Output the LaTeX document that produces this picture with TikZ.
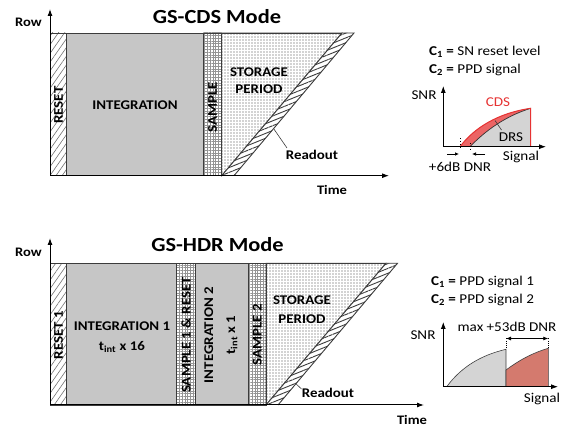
\documentclass[tikz,border=0pt]{standalone}
\usepackage{fontspec}
\setmainfont{Carlito}[FakeStretch=1.12]
\usetikzlibrary{arrows.meta,patterns.meta,calc}
\definecolor{intgray}{RGB}{198,198,198}
\definecolor{plotgray}{RGB}{212,212,212}
\definecolor{cdsred}{RGB}{230,50,50}
\definecolor{hdrred}{RGB}{212,122,110}
\definecolor{edge}{RGB}{60,60,60}
\tikzset{
  blk/.style={draw=edge,line width=0.9pt},
  intblk/.style={blk,fill=intgray},
  rstblk/.style={blk,pattern={Lines[angle=55,distance=5pt,line width=0.6pt]},pattern color=black!55},
  smpblk/.style={blk,pattern={Hatch[angle=0,distance=2.8pt,line width=0.45pt]},pattern color=black!42},
  stoblk/.style={blk,pattern={Dots[distance=3pt,radius=0.55pt]},pattern color=black!75},
  axis/.style={line width=1pt,-{Latex[length=7pt,width=5pt]}},
  paxis/.style={line width=0.8pt,-{Latex[length=7pt,width=5pt]}},
  lbl/.style={font=\fontsize{13.3}{15}\selectfont\bfseries,inner sep=0pt},
  rlbl/.style={lbl,rotate=90},
  ttl/.style={font=\fontsize{20}{23}\selectfont\bfseries,inner sep=0pt},
  axl/.style={font=\fontsize{13}{15}\selectfont\bfseries,inner sep=0pt},
  ptxt/.style={font=\fontsize{13.5}{15}\selectfont,inner sep=0pt},
  lead/.style={draw=edge,line width=0.6pt},
  dimarr/.style={line width=0.8pt,{Latex[length=5pt,width=4pt]}-{Latex[length=5pt,width=4pt]}}
}
\begin{document}
\begin{tikzpicture}[x=1pt,y=-1pt]
\useasboundingbox (0,0) rectangle (568,430);
% ================= GS-CDS =================
\node[ttl] (t1) at (217,17) {GS-CDS Mode};
\path[rstblk] (50,33) rectangle (66.7,175.7);
\path[intblk] (66.7,33) rectangle (203.3,175.7);
\path[smpblk] (203.3,33) rectangle (221.7,175.7);
\path[stoblk] (221.7,33) -- (342,33) -- (221.7,175.7) -- cycle;
\coordinate (b1bl) at (221.7,175.7); \coordinate (b1tl) at (342,33);
\coordinate (b1tr) at (354,33); \coordinate (b1br) at (234,175.7);
\path[fill=white] (b1bl) -- (b1tl) -- (b1tr) -- (b1br) -- cycle;
\path[pattern={Lines[angle=22,distance=4.5pt,line width=0.9pt]},pattern color=edge] (b1bl) -- (b1tl) -- (b1tr) -- (b1br) -- cycle;
\draw[blk] (b1bl) -- (b1tl) -- (b1tr) -- (b1br);
\draw[blk] (50,33) -- (b1tl);
\draw[axis] (50,175.7) -- (50,9);
\draw[axis] (50,175.7) -- (389,175.7);
\node[axl] (row1) at (28.5,22.5) {Row};
\node[axl] (time1) at (332,190) {Time};
\node[rlbl] (rst1) at (58.5,105) {RESET};
\node[lbl] (int1) at (135,105) {INTEGRATION};
\node[rlbl] (smp1) at (212.5,107) {SAMPLE};
\node[lbl,align=center,font=\fontsize{13.3}{17}\selectfont\bfseries] (sto1) at (259,80.5) {STORAGE\\PERIOD};
\node[lbl] (rd1) at (312,155) {Readout};
\coordinate (rd1p) at ($(b1br)!0.33!(b1tr)$);
\draw[lead] (rd1p) -- (287,148);
% CDS plot
\node[ptxt,anchor=west] (c1a) at (429,52) {\textbf{C\textsubscript{1} =} SN reset level};
\node[ptxt,anchor=west] (c2a) at (429,70) {\textbf{C\textsubscript{2} =} PPD signal};
\path[fill=plotgray] (470,146.7) .. controls (486,130) and (506,116) .. (530.7,108.3) -- (530.7,146.7) -- cycle;
\path[fill=cdsred!75] (460,146.7) .. controls (474,128) and (498,113) .. (530.7,108.3)
   .. controls (506,116) and (486,130) .. (470,146.7) -- cycle;
\draw[line width=0.7pt,black!80] (470,146.7) .. controls (486,130) and (506,116) .. (530.7,108.3);
\draw[line width=1pt,cdsred] (460,146.7) .. controls (474,128) and (498,113) .. (530.7,108.3) -- (530.7,146.7);
\draw[paxis] (443.3,146.7) -- (443.3,86);
\draw[paxis] (443.3,146.7) -- (546,146.7);
\node[ptxt] (snr1) at (424,95) {SNR};
\node[ptxt] (sig1) at (521,156.5) {Signal};
\node[ptxt] (dnr1) at (460,167) {+6dB DNR};
\node[ptxt,text=cdsred] (cds) at (498,102.5) {CDS};
\node[ptxt] (drs) at (511,137) {DRS};
\draw[lead] (501.5,130) -- (495,120.5);
\draw[line width=1pt,dash pattern=on 1.5pt off 1.5pt] (460.5,138) -- (460.5,149);
\draw[line width=1pt,dash pattern=on 1.5pt off 1.5pt] (470.5,143) -- (470.5,152);
\draw[line width=0.7pt,-{Latex[length=4pt,width=3.5pt]}] (447,154) -- (459,154);
\draw[line width=0.7pt,-{Latex[length=4pt,width=3.5pt]}] (485,154) -- (472,154);
% ================= GS-HDR =================
\node[ttl] (t2) at (217.5,245) {GS-HDR Mode};
\path[rstblk] (50,263.3) rectangle (66.7,405);
\path[intblk] (66.7,263.3) rectangle (176.7,405);
\path[smpblk] (176.7,263.3) rectangle (195,405);
\path[intblk] (195,263.3) rectangle (248.3,405);
\path[smpblk] (248.3,263.3) rectangle (266,405);
\path[stoblk] (266,263.3) -- (386,263.3) -- (266,405) -- cycle;
\coordinate (b2bl) at (266,405); \coordinate (b2tl) at (386,263.3);
\coordinate (b2tr) at (397.5,263.3); \coordinate (b2br) at (278,405);
\path[fill=white] (b2bl) -- (b2tl) -- (b2tr) -- (b2br) -- cycle;
\path[pattern={Lines[angle=22,distance=4.5pt,line width=0.9pt]},pattern color=edge] (b2bl) -- (b2tl) -- (b2tr) -- (b2br) -- cycle;
\draw[blk] (b2bl) -- (b2tl) -- (b2tr) -- (b2br);
\draw[blk] (50,263.3) -- (b2tl);
\draw[axis] (50,405) -- (50,238);
\draw[axis] (50,405) -- (424,405);
\node[axl] (row2) at (28.5,252) {Row};
\node[axl] (time2) at (412,420) {Time};
\node[rlbl] (rst2) at (58.5,335) {RESET 1};
\node[lbl,align=center,font=\fontsize{13.3}{20}\selectfont\bfseries] (int21) at (122,337) {INTEGRATION 1\\t\textsubscript{int} x 16};
\node[rlbl] (smp21) at (186,335) {SAMPLE 1 \& RESET};
\node[rlbl,align=center,font=\fontsize{13.3}{22}\selectfont\bfseries] (int22) at (221,335) {INTEGRATION 2\\t\textsubscript{int} x 1};
\node[rlbl] (smp22) at (257.3,335) {SAMPLE 2};
\node[lbl,align=center,font=\fontsize{13.3}{19}\selectfont\bfseries] (sto2) at (302,309.5) {STORAGE\\PERIOD};
\node[lbl] (rd2) at (328,393) {Readout};
\coordinate (rd2p) at ($(b2br)!0.15!(b2tr)$);
\draw[lead] (rd2p) -- (301.5,389);
% HDR plot
\node[ptxt,anchor=west] (c1b) at (431,282) {\textbf{C\textsubscript{1} =} PPD signal 1};
\node[ptxt,anchor=west] (c2b) at (431,300) {\textbf{C\textsubscript{2} =} PPD signal 2};
\draw[fill=plotgray,draw=black!75,line width=0.6pt] (446.7,386.7) .. controls (462,366) and (482,355) .. (506,349.3) -- (506,386.7) -- cycle;
\draw[fill=hdrred,draw=black!75,line width=0.6pt] (506,370) .. controls (518,361) and (532,353) .. (548.3,348.3) -- (548.3,386.7) -- (506,386.7) -- cycle;
\draw[paxis] (443.3,386.7) -- (443.3,322);
\draw[paxis] (443.3,386.7) -- (558,386.7);
\node[ptxt] (snr2) at (423,335) {SNR};
\node[ptxt] (sig2) at (542,398.5) {Signal};
\node[ptxt] (dnr2) at (507,326.5) {max +53dB DNR};
\coordinate (d2a) at (506,338.5); \coordinate (d2b) at (548.3,338.5);
\draw[dimarr] (d2a) -- (d2b);
\draw[line width=0.8pt,dash pattern=on 1pt off 1.2pt] (d2a) -- (506,349);
\draw[line width=0.8pt,dash pattern=on 1pt off 1.2pt] (d2b) -- (548.3,348);
\end{tikzpicture}
\end{document}
